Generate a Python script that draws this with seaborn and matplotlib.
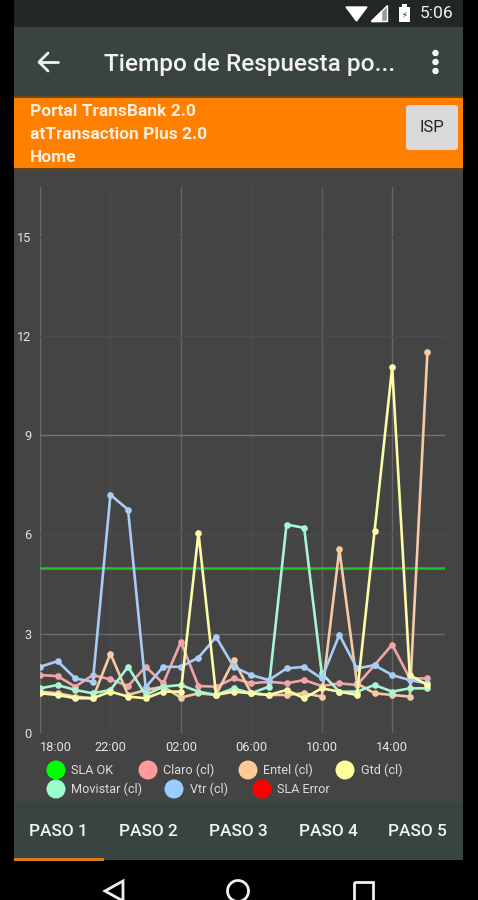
import numpy as np
import pandas as pd
import matplotlib
matplotlib.use('Agg')
import matplotlib.pyplot as plt
from matplotlib.patches import Rectangle, Circle, Polygon, FancyBboxPatch
import seaborn as sns

# Values, one point per hour from 18:00 to 16:00
hours = ['18:00', '19:00', '20:00', '21:00', '22:00', '23:00', '00:00', '01:00',
         '02:00', '03:00', '04:00', '05:00', '06:00', '07:00', '08:00', '09:00',
         '10:00', '11:00', '12:00', '13:00', '14:00', '15:00', '16:00']
claro = [1.75, 1.72, 1.4, 1.75, 1.62, 1.42, 2.0, 1.5, 2.75, 1.42, 1.4, 1.65, 1.5,
         1.55, 1.5, 1.6, 1.42, 1.5, 1.45, 2.05, 2.67, 1.65, 1.65]
entel = [1.25, 1.2, 1.1, 1.05, 2.4, 1.15, 1.3, 1.4, 1.07, 1.2, 1.15, 2.2, 1.2,
         1.15, 1.15, 1.2, 1.1, 5.55, 1.5, 1.2, 1.15, 1.1, 11.5]
gtd = [1.2, 1.15, 1.05, 1.05, 1.25, 1.1, 1.05, 1.25, 1.25, 6.05, 1.15, 1.25, 1.2,
       1.15, 1.3, 1.05, 1.35, 1.25, 1.15, 6.1, 11.05, 1.75, 1.45]
movistar = [1.35, 1.45, 1.3, 1.2, 1.3, 2.0, 1.15, 1.4, 1.45, 1.25, 1.15, 1.35, 1.2,
            1.4, 6.3, 6.2, 1.8, 1.25, 1.25, 1.45, 1.25, 1.35, 1.35]
vtr = [2.0, 2.17, 1.65, 1.55, 7.2, 6.75, 1.38, 2.0, 2.0, 2.28, 2.9, 2.0, 1.75,
       1.6, 1.95, 2.0, 1.65, 2.97, 1.95, 2.05, 1.75, 1.6, 1.5]
sla_ok = 5
y_ticks = [0, 3, 6, 9, 12, 15]
x_labels = ['18:00', '22:00', '02:00', '06:00', '10:00', '14:00']
tabs = ['PASO 1', 'PASO 2', 'PASO 3', 'PASO 4', 'PASO 5']
banner = ['Portal TransBank 2.0', 'atTransaction Plus 2.0', 'Home']

colors = {'Claro (cl)': '#ff9a9a', 'Entel (cl)': '#ffc89a', 'Gtd (cl)': '#ffff99',
          'Movistar (cl)': '#99ffcc', 'Vtr (cl)': '#99ccff'}
line_colors = {'Claro (cl)': '#f0a6a6', 'Entel (cl)': '#f5cba6', 'Gtd (cl)': '#fbfba8',
               'Movistar (cl)': '#a8f5d2', 'Vtr (cl)': '#a9cdf5'}
series = {'Claro (cl)': claro, 'Entel (cl)': entel, 'Movistar (cl)': movistar,
          'Vtr (cl)': vtr, 'Gtd (cl)': gtd}

sns.set_style('dark')
plt.rcParams['font.family'] = ['Roboto', 'DejaVu Sans']

W, H = 478, 900
fig = plt.figure(figsize=(W / 100, H / 100), dpi=100, facecolor='black')

# Screen furniture, in pixel coordinates
ui = fig.add_axes([0, 0, 1, 1], zorder=0)
ui.set_xlim(0, W)
ui.set_ylim(H, 0)
ui.axis('off')


def box(x0, y0, x1, y1, color):
    ui.add_patch(Rectangle((x0, y0), x1 - x0, y1 - y0, fc=color, ec='none'))


box(14, 0, 463, 27, '#222725')
box(14, 27, 463, 97, '#39433f')
box(14, 97, 463, 168, '#ff8000')
box(14, 96, 463, 98, '#6b4a1c')
box(14, 168, 463, 171, '#5a4426')
box(14, 171, 463, 802, '#444444')
box(14, 802, 463, 860, '#39433f')
box(14, 858, 104, 861, '#d87c1c')

# status bar
ui.add_patch(Polygon([(346, 7), (367, 7), (356.5, 21)], fc='white'))
ui.add_patch(Polygon([(371, 21), (387, 21), (387, 5)], fc='#9a9a9a'))
ui.add_patch(Polygon([(371, 21), (381, 21), (381, 11)], fc='white'))
box(399, 7, 410, 22, 'white')
box(402, 4, 407, 8, 'white')
ui.text(404.5, 14.5, '⚡', color='#222725', fontsize=6, ha='center', va='center',
        family=['DejaVu Sans'])
ui.text(453, 13.5, '5:06', color='#f2f2f2', fontsize=12.6, ha='right', va='center')

# toolbar
ui.plot([39, 58], [62, 62], color='#f2f2f2', lw=2)
ui.plot([48, 39, 48], [53, 62, 71], color='#f2f2f2', lw=2)
ui.text(104, 64, 'Tiempo de Respuesta po...', color='#f2f2f2', fontsize=17.6,
        weight='medium', va='center')
for y in [53, 62, 71]:
    ui.add_patch(Circle((435.5, y), 2.5, fc='#f2f2f2'))

# banner
for y, line in zip([111, 134.5, 158], banner):
    ui.text(30, y, line, color='#fbeedd', fontsize=12.5, weight='bold', va='center')
ui.add_patch(FancyBboxPatch((406, 105), 52, 45, boxstyle='round,pad=0,rounding_size=3',
                            fc='#d9d9d9', ec='none'))
ui.text(432, 127.5, 'ISP', color='#222222', fontsize=12, ha='center', va='center')

# legend
legend_items = [('SLA OK', 56, 770, '#00ff00', 71), ('Claro (cl)', 148, 770, colors['Claro (cl)'], 163),
                ('Entel (cl)', 248, 770, colors['Entel (cl)'], 263), ('Gtd (cl)', 345, 770, colors['Gtd (cl)'], 361),
                ('Movistar (cl)', 56, 789, colors['Movistar (cl)'], 71), ('Vtr (cl)', 174, 789, colors['Vtr (cl)'], 190),
                ('SLA Error', 262, 789, '#ff0000', 277)]
for name, cx, cy, col, tx in legend_items:
    ui.add_patch(Circle((cx, cy), 9.5, fc=col, ec='none'))
    ui.text(tx, cy + 0.8, name, color='#dcdcdc', fontsize=9.1, va='center')

# tabs
for cx, tab in zip([58, 148, 238, 328, 417], tabs):
    ui.text(cx, 832, tab, color='#f4f4f4', fontsize=12.4, weight='medium', ha='center', va='center')

# navigation bar
ui.add_patch(Polygon([(123, 881), (105, 891), (123, 901)], fc='none', ec='#f0f0f0', lw=2))
ui.add_patch(Circle((238, 891), 10.5, fc='none', ec='#f0f0f0', lw=2))
ui.add_patch(Rectangle((354, 882), 19, 22, fc='none', ec='#f0f0f0', lw=2))

# The chart: x=0 sits at px 40, one hour is 17.6 px, y runs 33.1 px per unit
left, right, top, bottom = 40, 445, 187, 733
ax = fig.add_axes([left / W, 1 - bottom / H, (right - left) / W, (bottom - top) / H], zorder=1)
ax.patch.set_alpha(0)

df = pd.DataFrame(series)
df['idx'] = np.arange(len(hours))
long_df = df.melt(id_vars='idx', var_name='isp', value_name='tiempo')
sns.lineplot(data=long_df, x='idx', y='tiempo', hue='isp', palette=line_colors,
             hue_order=list(series), marker='o', markersize=4.8, markeredgewidth=0,
             linewidth=1.9, legend=False, ax=ax, zorder=3)
ax.axhline(sla_ok, color='#22c322', lw=1.8, zorder=2)

ax.set_xlim(0, 23)
ax.set_ylim(0, 16.5)
ax.set_xlabel('')
ax.set_ylabel('')
for s in ax.spines.values():
    s.set_visible(False)

tick_pos = [hours.index(l) for l in x_labels]
ax.set_xticks(tick_pos)
ax.set_xticklabels(x_labels)
ax.set_yticks(y_ticks)
ax.tick_params(colors='#e4e4e4', labelsize=9.2, length=0, pad=5.6)
ax.tick_params(axis='y', pad=6)
ax.get_xticklabels()[0].set_horizontalalignment('left')
ax.grid(False)

# grid lines differ in strength in the screenshot
v_grid = ['#6a6a6a', '#4b4b4b', '#666666', '#4b4b4b', '#5e5e5e', '#666666']
h_grid = ['#555555', '#6c6c6c', '#4c4c4c', '#747474', '#4c4c4c', '#444444']
for p, c in zip(tick_pos, v_grid):
    ax.axvline(p, color=c, lw=1, zorder=1)
for v, c in zip(y_ticks, h_grid):
    ax.axhline(v, color=c, lw=1, zorder=1)

fig.savefig('out.png', dpi=100, facecolor='black')
